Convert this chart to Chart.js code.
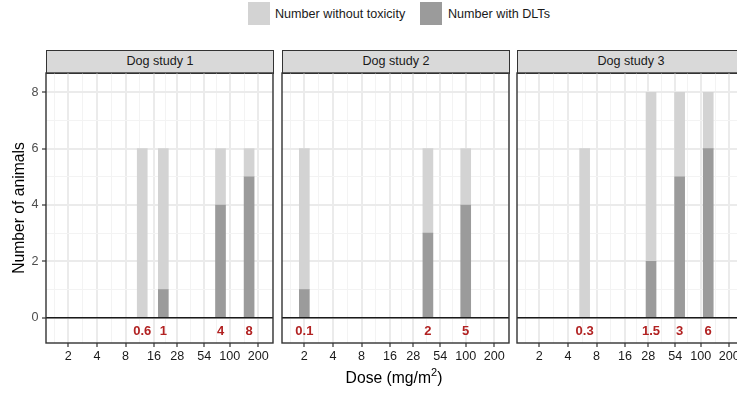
<!DOCTYPE html>
<html lang="en">
<head>
<meta charset="UTF-8">
<title>Dog studies - animals by dose</title>
<script src="https://cdn.jsdelivr.net/npm/chart.js@4"></script>
<style>
  html, body { margin: 0; padding: 0; background: #fff; }
  body { width: 737px; height: 394px; position: relative; overflow: hidden;
         font-family: "Liberation Sans", Arial, sans-serif; color: #1a1a1a; }
  .key { position: absolute; top: 2px; width: 22px; height: 23px; }
  .key-text { position: absolute; top: 6px; font-size: 12.6px; line-height: 16px; white-space: nowrap; }
  .strip { position: absolute; top: 50px; height: 24px; width: 228px; box-sizing: border-box;
           background: #d9d9d9; border: 1.4px solid #333; text-align: center;
           font-size: 12.6px; line-height: 21px; }
  canvas { position: absolute; top: 70px; }
  .xtitle { position: absolute; top: 368px; left: 294px; width: 200px; text-align: center;
            font-size: 15.7px; line-height: 20px; color: #000; }
  .xtitle sup { font-size: 11px; line-height: 0; position: relative; top: -1px; }
</style>
</head>
<body>

<div class="key" style="left:248px; background:#d3d3d3"></div>
<div class="key-text" style="left:275px">Number without toxicity</div>
<div class="key" style="left:420px; background:#9b9b9b"></div>
<div class="key-text" style="left:448px">Number with DLTs</div>

<div class="strip" style="left:46px">Dog study 1</div>
<div class="strip" style="left:282px">Dog study 2</div>
<div class="strip" style="left:517px">Dog study 3</div>

<canvas id="panel1" width="280" height="324" style="left:0px"></canvas>
<canvas id="panel2" width="280" height="324" style="left:236px"></canvas>
<canvas id="panel3" width="280" height="324" style="left:471px"></canvas>

<div class="xtitle">Dose (mg/m<sup>2</sup>)</div>

<script>
// doses given in mg/kg (printed under each bar), one array per study
const doseMgKg = [
    [0.6, 1, 4, 8],
    [0.1, 2, 5],
    [0.3, 1.5, 3, 6]
];
// animals with dose-limiting toxicities at each dose
const withDLT = [
    [0, 1, 4, 5],
    [1, 3, 4],
    [0, 2, 5, 6]
];
// animals without toxicity at each dose
const withoutTox = [
    [6, 5, 2, 1],
    [5, 3, 2],
    [6, 6, 3, 2]
];
const doseTicks = [2, 4, 8, 16, 28, 54, 100, 200];
const countTicks = [0, 2, 4, 6, 8];

// dog: mg/kg -> mg/m2
const KM_DOG = 20;

const LIGHT = '#d3d3d3';
const DARK = '#9b9b9b';
const LABEL_RED = '#b22222';
const FONT = '"Liberation Sans", Arial, sans-serif';

const X_MIN = 1.164, X_MAX = 285.6;
const Y_MIN = -0.898, Y_MAX = 8.685;
const LABEL_Y = -0.5;

// minor grid lines sit halfway between the major ones (in log space),
// with one extra step past each end
const logMaj = doseTicks.map(v => Math.log10(v));
const step = logMaj[1] - logMaj[0];
const logExt = [logMaj[0] - step, ...logMaj, logMaj[logMaj.length - 1] + step];
const xMinor = [];
for (let i = 0; i < logExt.length - 1; i++) {
    const v = Math.pow(10, (logExt[i] + logExt[i + 1]) / 2);
    if (v > X_MIN && v < X_MAX) xMinor.push(v);
}
const xGrid = [...doseTicks, ...xMinor].sort((a, b) => a - b);
const yGrid = [0, 1, 2, 3, 4, 5, 6, 7, 8];

function makeDecor(i) {
    return {
        id: 'panelDecor' + i,
        afterDatasetsDraw(chart) {
            const { ctx, chartArea: a, scales: { x, y } } = chart;
            ctx.save();
            // horizontal line at zero
            const y0 = y.getPixelForValue(0);
            ctx.strokeStyle = '#1a1a1a';
            ctx.lineWidth = 1.5;
            ctx.beginPath();
            ctx.moveTo(a.left, y0);
            ctx.lineTo(a.right, y0);
            ctx.stroke();
            // dose in mg/kg under each bar
            ctx.fillStyle = LABEL_RED;
            ctx.font = 'bold 13px ' + FONT;
            ctx.textAlign = 'center';
            ctx.textBaseline = 'middle';
            const ly = y.getPixelForValue(LABEL_Y);
            doseMgKg[i].forEach(d => ctx.fillText(String(d), x.getPixelForValue(d * KM_DOG), ly));
            // panel border
            ctx.strokeStyle = '#333';
            ctx.lineWidth = 1.4;
            ctx.strokeRect(a.left, a.top, a.right - a.left, a.bottom - a.top);
            ctx.restore();
        }
    };
}

function buildPanel(i) {
    const xs = doseMgKg[i].map(d => d * KM_DOG);
    const first = i === 0;

    new Chart(document.getElementById('panel' + (i + 1)), {
        type: 'bar',
        data: {
            datasets: [
                {
                    label: 'Number with DLTs',
                    data: xs.map((x, j) => ({ x: x, y: withDLT[i][j] })),
                    backgroundColor: DARK,
                    stack: 'dose'
                },
                {
                    label: 'Number without toxicity',
                    data: xs.map((x, j) => ({ x: x, y: withoutTox[i][j] })),
                    backgroundColor: LIGHT,
                    stack: 'dose'
                }
            ]
        },
        options: {
            responsive: false,
            animation: false,
            layout: { padding: { left: 0, right: 7, top: 3, bottom: 0 } },
            datasets: { bar: { barThickness: 10, borderWidth: 0 } },
            plugins: { legend: { display: false }, tooltip: { enabled: false } },
            scales: {
                x: {
                    type: 'logarithmic',
                    min: X_MIN,
                    max: X_MAX,
                    bounds: 'data',
                    offset: false,
                    afterBuildTicks: s => {
                        s.ticks = xGrid.map(v => ({ value: v, minor: !doseTicks.includes(v) }));
                    },
                    afterFit: s => {
                        s.height = 51;
                        s.paddingLeft = 0;
                        s.paddingRight = 0;
                    },
                    border: { display: false },
                    grid: {
                        offset: false,
                        color: c => (c.tick && c.tick.minor) ? '#f3f3f3' : '#ebebeb',
                        lineWidth: c => (c.tick && c.tick.minor) ? 1 : 2,
                        tickColor: c => (c.tick && c.tick.minor) ? 'rgba(0,0,0,0)' : '#333',
                        tickLength: 4,
                        tickWidth: 1.2
                    },
                    ticks: {
                        autoSkip: false,
                        maxRotation: 0,
                        minRotation: 0,
                        padding: 1.5,
                        color: '#1a1a1a',
                        font: { family: FONT, size: 12.6 },
                        callback: (v, idx, ticks) => ticks[idx].minor ? '' : String(v)
                    }
                },
                y: {
                    stacked: true,
                    min: Y_MIN,
                    max: Y_MAX,
                    bounds: 'data',
                    afterBuildTicks: s => {
                        s.ticks = yGrid.map(v => ({ value: v, minor: !countTicks.includes(v) }));
                    },
                    afterFit: s => {
                        s.width = 46;
                        s.paddingTop = 0;
                        s.paddingBottom = 0;
                    },
                    border: { display: false },
                    grid: {
                        color: c => (c.tick && c.tick.minor) ? '#f3f3f3' : '#ebebeb',
                        lineWidth: c => (c.tick && c.tick.minor) ? 1 : 2,
                        tickColor: c => (c.tick && c.tick.minor) ? 'rgba(0,0,0,0)' : '#333',
                        drawTicks: first,
                        tickLength: 4,
                        tickWidth: 1.2
                    },
                    ticks: {
                        display: first,
                        autoSkip: false,
                        padding: 3.5,
                        color: '#4d4d4d',
                        font: { family: FONT, size: 12.6 },
                        callback: (v, idx, ticks) => ticks[idx].minor ? '' : String(v)
                    },
                    title: {
                        display: first,
                        text: 'Number of animals',
                        color: '#000',
                        font: { family: FONT, size: 15.7 },
                        padding: { top: 10, bottom: 0 }
                    }
                }
            }
        },
        plugins: [makeDecor(i)]
    });
}

[0, 1, 2].forEach(buildPanel);
</script>
</body>
</html>
